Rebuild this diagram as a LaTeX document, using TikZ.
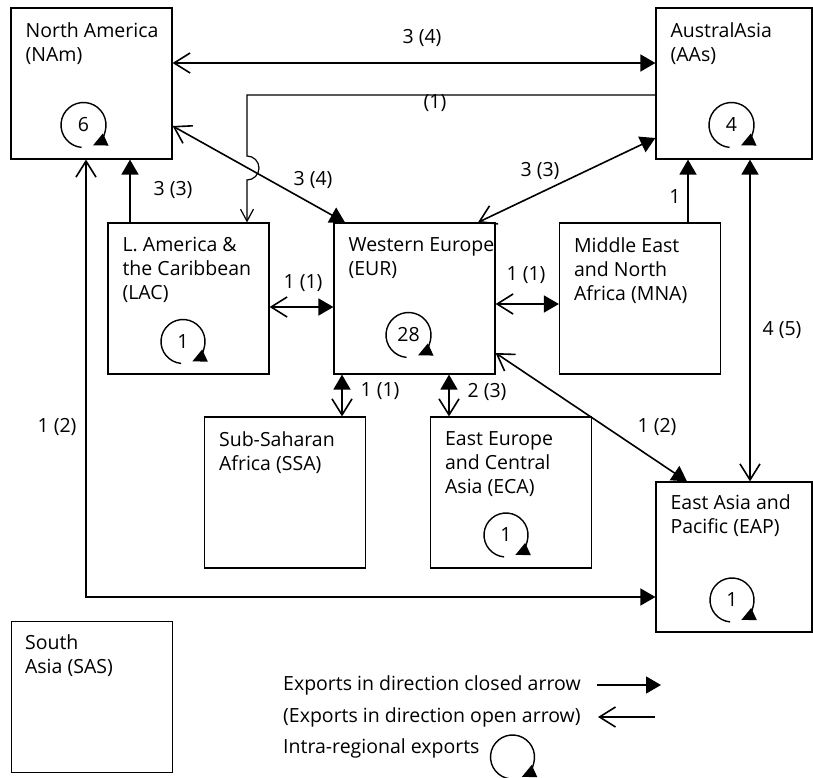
\documentclass[tikz,border=0pt]{standalone}
\usepackage{fontspec}
\setmainfont{Open Sans}
\usetikzlibrary{arrows.meta}
\tikzset{
  region/.style={draw, line width=1.2pt, minimum width=161pt, minimum height=151pt, inner sep=0pt},
  regname/.style={anchor=north west, align=left, inner sep=0pt},
  amount/.style={inner sep=0pt},
  shut/.tip={Triangle[length=15pt,width=17pt]},
  barb/.tip={Straight Barb[length=16pt,width=20pt]},
  trade/.style={line width=1.6pt},
  intra/.style={line width=1.4pt, -{Triangle[length=14pt,width=13pt]}},
}
\begin{document}
\begin{tikzpicture}[x=1pt, y=1pt, font=\fontsize{19.5}{24}\selectfont]
\useasboundingbox (0,0) rectangle (813,777);

% regions
\node[region] (nam) at (91.5,693.5) {};
\node[region, minimum width=156pt] (aas) at (734,693.5) {};
\node[region] (lac) at (188.5,478.5) {};
\node[region] (eur) at (414.5,478.5) {};
\node[region] (mna) at (640,478.5) {};
\node[region] (ssa) at (285,284.5) {};
\node[region] (eca) at (511,284.5) {};
\node[region, minimum width=156pt, minimum height=150pt] (eap) at (734,220) {};
\node[region] (sas) at (92,80) {};

\node[regname] (nam-t) at ([shift={(15,-15)}]nam.north west) {North America\\(NAm)};
\node[regname] (aas-t) at ([shift={(15,-15)}]aas.north west) {AustralAsia\\(AAs)};
\node[regname] (lac-t) at ([shift={(15,-15)}]lac.north west) {L. America \&\\the Caribbean\\(LAC)};
\node[regname] (eur-t) at ([shift={(15,-15)}]eur.north west) {Western Europe\\(EUR)};
\node[regname] (mna-t) at ([shift={(15,-15)}]mna.north west) {Middle East\\and North\\Africa (MNA)};
\node[regname] (ssa-t) at ([shift={(15,-15)}]ssa.north west) {Sub-Saharan\\Africa (SSA)};
\node[regname] (eca-t) at ([shift={(15,-15)}]eca.north west) {East Europe\\and Central\\Asia (ECA)};
\node[regname] (eap-t) at ([shift={(15,-13)}]eap.north west) {East Asia and\\Pacific (EAP)};
\node[regname] (sas-t) at ([shift={(14,-14)}]sas.north west) {South\\Asia (SAS)};

% intra-regional loops
\node[amount] (nam-l) at (83.5,652) {6};
\draw[intra] ([shift={(265:22.5)}]nam-l.center) arc[start angle=265, end angle=-65, radius=22.5];
\node[amount] (aas-l) at (731.5,652) {4};
\draw[intra] ([shift={(265:22.5)}]aas-l.center) arc[start angle=265, end angle=-65, radius=22.5];
\node[amount] (lac-l) at (183,435.5) {1};
\draw[intra] ([shift={(265:22)}]lac-l.center) arc[start angle=265, end angle=-65, radius=22];
\node[amount] (eur-l) at (408.5,442) {28};
\draw[intra] ([shift={(265:22.5)}]eur-l.center) arc[start angle=265, end angle=-65, radius=22.5];
\node[amount] (eca-l) at (506,242) {1};
\draw[intra] ([shift={(265:22)}]eca-l.center) arc[start angle=265, end angle=-65, radius=22];
\node[amount] (eap-l) at (732,177) {1};
\draw[intra] ([shift={(265:22)}]eap-l.center) arc[start angle=265, end angle=-65, radius=22];

% flows between regions
\coordinate (hop) at (247,609);
\draw[line width=1.2pt, -{Straight Barb[length=12pt,width=13pt]}] ([yshift=-11.5]aas.west) -| ([yshift=12]hop) arc[start angle=90, end angle=-90, radius=12] -- ([xshift=58.5]lac.north);
\draw[trade, {barb}-{shut}] ([yshift=20.5]nam.east) -- ([yshift=20.5]aas.west);
\draw[trade, {barb}-{shut}] ([yshift=-42.5]nam.east) -- ([xshift=-69.5]eur.north);
\draw[trade, {barb}-{shut}] ([xshift=63.5]eur.north) -- ([yshift=-54.5]aas.west);
\draw[trade, -{shut}] ([xshift=-58.5]lac.north) -- ([xshift=-58.5]lac.north |- nam.south);
\draw[trade, {barb}-{shut}] ([xshift=-5.5]nam.south) |- ([yshift=-40]eap.west);
\draw[trade, {barb}-{shut}] ([yshift=-8.5]lac.east) -- ([yshift=-8.5]eur.west);
\draw[trade, {barb}-{shut}] ([yshift=-5.5]eur.east) -- ([yshift=-5.5]mna.west);
\draw[trade, -{shut}] ([xshift=48]mna.north) -- ([xshift=48]mna.north |- aas.south);
\draw[trade, {barb}-{shut}] ([xshift=16]eap.north) -- ([xshift=16]aas.south);
\draw[trade, {barb}-{shut}] ([xshift=57]ssa.north) -- ([xshift=57]ssa.north |- eur.south);
\draw[trade, {barb}-{shut}] ([xshift=-62]eca.north) -- ([xshift=-62]eca.north |- eur.south);
\draw[trade, {barb}-{shut}] ([yshift=-54.5]eur.east) -- ([xshift=-47]eap.north);

% amounts on the flows
\node[amount] (q-nam-aas) at (422,739) {3 (4)};
\node[amount] (q-aas-lac) at (435,674) {(1)};
\node[amount] (q-nam-eur) at (313,597) {3 (4)};
\node[amount] (q-eur-aas) at (540,606) {3 (3)};
\node[amount] (q-lac-nam) at (173,587) {3 (3)};
\node[amount] (q-lac-eur) at (303,494) {1 (1)};
\node[amount] (q-eur-mna) at (526,502) {1 (1)};
\node[amount] (q-mna-aas) at (675,580) {1};
\node[amount] (q-eap-aas) at (782,447) {4 (5)};
\node[amount] (q-nam-eap) at (57,350) {1 (2)};
\node[amount] (q-eur-ssa) at (380,386) {1 (1)};
\node[amount] (q-eur-eca) at (487,385) {2 (3)};
\node[amount] (q-eur-eap) at (657,350) {1 (2)};

% key
\node[anchor=west, inner sep=0pt] (key-shut) at (283,92) {Exports in direction closed arrow};
\node[anchor=west, inner sep=0pt] (key-barb) at (283,60) {(Exports in direction open arrow)};
\node[anchor=west, inner sep=0pt] (key-intra) at (283,29) {Intra-regional exports};
\coordinate (ks-a) at (597,92);
\coordinate (ks-b) at (661,92);
\coordinate (kb-a) at (655,60);
\coordinate (kb-b) at (598,60);
\coordinate (ki) at (512.5,20);
\draw[trade, -{shut}] (ks-a) -- (ks-b);
\draw[trade, -{barb}] (kb-a) -- (kb-b);
\draw[intra] ([shift={(265:22)}]ki) arc[start angle=265, end angle=-65, radius=22];
\end{tikzpicture}
\end{document}
